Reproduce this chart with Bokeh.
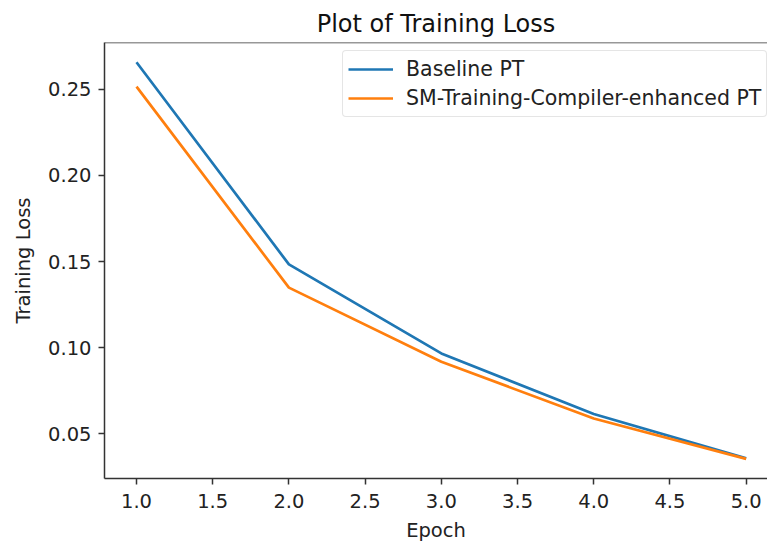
from bokeh.plotting import figure
from bokeh.models import (Range1d, FixedTicker, PrintfTickFormatter, Legend, LegendItem, Span)
from bokeh.embed import file_html
from bokeh.resources import INLINE

# data
epochs = [1, 2, 3, 4, 5]
baseline_loss = [0.2657, 0.1484, 0.0967, 0.0615, 0.0358]
compiler_loss = [0.2516, 0.1349, 0.0919, 0.0589, 0.0355]
series_names = ["Baseline PT", "SM-Training-Compiler-enhanced PT"]
x_ticks = [1.0, 1.5, 2.0, 2.5, 3.0, 3.5, 4.0, 4.5, 5.0]
y_ticks = [0.05, 0.10, 0.15, 0.20, 0.25]

FONT = "DejaVu Sans"
SPINE = "#333333"
TXT = "#222222"

p = figure(width=767, height=544, output_backend="svg", toolbar_location=None,
           x_range=Range1d(0.79, 5.14), y_range=Range1d(0.0241, 0.2772),
           min_border_left=104, min_border_right=0, min_border_top=42,
           min_border_bottom=66, background_fill_color="white",
           border_fill_color="white")

p.title.text = "Plot of Training Loss"
p.title.align = "center"
p.title.text_font = FONT
p.title.text_font_size = "24px"
p.title.text_font_style = "normal"
p.title.text_color = "#111111"
p.title.offset = 4
p.title.standoff = 9

p.grid.visible = False
p.outline_line_color = None

for ax in (p.xaxis[0], p.yaxis[0]):
    ax.axis_line_color = SPINE
    ax.axis_line_width = 1.5
    ax.major_tick_line_color = SPINE
    ax.major_tick_line_width = 1.5
    ax.major_tick_in = 0
    ax.major_tick_out = 6
    ax.minor_tick_line_color = None
    ax.major_label_text_font = FONT
    ax.major_label_text_font_size = "19.5px"
    ax.major_label_text_color = TXT
    ax.axis_label_text_font = FONT
    ax.axis_label_text_font_size = "19.5px"
    ax.axis_label_text_font_style = "normal"
    ax.axis_label_text_color = TXT

p.xaxis.major_label_standoff = 9
p.yaxis.major_label_standoff = 7
p.xaxis.ticker = FixedTicker(ticks=x_ticks)
p.xaxis.formatter = PrintfTickFormatter(format="%.1f")
p.yaxis.ticker = FixedTicker(ticks=y_ticks)
p.yaxis.formatter = PrintfTickFormatter(format="%.2f")
p.xaxis.axis_label = "Epoch"
p.yaxis.axis_label = "Training Loss"
p.xaxis.axis_label_standoff = 8
p.yaxis.axis_label_standoff = 10

top_spine = Span(location=p.y_range.end, dimension="width", line_color=SPINE, line_width=1.5)
p.add_layout(top_spine)

r1 = p.line(epochs, baseline_loss, line_color="#1f77b4", line_width=2.7)
r2 = p.line(epochs, compiler_loss, line_color="#ff7f0e", line_width=2.7)

legend = Legend(items=[LegendItem(label=series_names[0], renderers=[r1]),
                       LegendItem(label=series_names[1], renderers=[r2])],
                location=(238, 361), orientation="vertical")
legend.label_text_font = FONT
legend.label_text_font_size = "20.5px"
legend.label_text_color = TXT
legend.padding = 5
legend.spacing = 3
legend.label_height = 26
legend.glyph_height = 26
legend.glyph_width = 45
legend.label_standoff = 13
legend.margin = 0
legend.border_line_color = "#cccccc"
legend.border_line_width = 1
legend.background_fill_alpha = 0.8
try:
    legend.border_radius = 4
except Exception:
    pass
p.add_layout(legend)

open("out.html", "w").write(file_html(p, INLINE))
